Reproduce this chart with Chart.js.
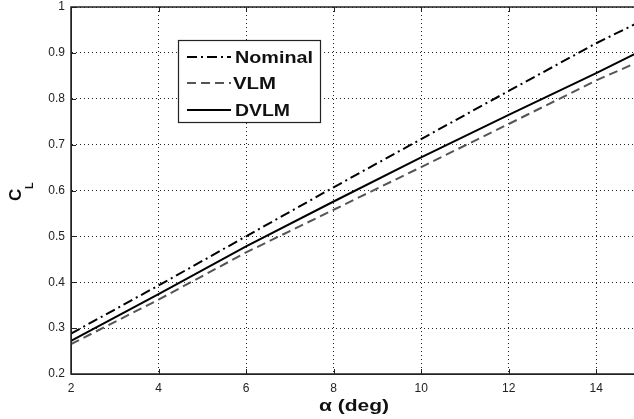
<!DOCTYPE html>
<html>
<head>
<meta charset="utf-8">
<script src="https://cdn.jsdelivr.net/npm/chart.js@4.4.1/dist/chart.umd.min.js"></script>
<style>
html, body { margin: 0; padding: 0; background: #fff; overflow: hidden; }
#wrap { width: 644px; height: 419px; }
</style>
</head>
<body>
<div id="wrap"><canvas id="chart" width="644" height="419"></canvas></div>
<script>
// angle of attack (deg)
const alpha = [2, 4, 6, 8, 10, 12, 14, 15];
// lift coefficient
const nominal = [0.288, 0.393, 0.500, 0.607, 0.712, 0.817, 0.921, 0.968];
const vlm     = [0.265, 0.362, 0.465, 0.558, 0.651, 0.745, 0.840, 0.882];
const dvlm    = [0.272, 0.374, 0.478, 0.576, 0.672, 0.765, 0.856, 0.903];

const xTicks = [2, 4, 6, 8, 10, 12, 14];
const yTicks = [0.2, 0.3, 0.4, 0.5, 0.6, 0.7, 0.8, 0.9, 1];

const seriesNames = ['Nominal', 'VLM', 'DVLM'];
const xTitle = 'α (deg)';
const FONT = '"Liberation Sans", Arial, Helvetica, sans-serif';

function toPoints(ys) {
    return alpha.map((a, i) => ({ x: a, y: ys[i] }));
}

// texte étiré horizontalement pour imiter la police large de l'original
function wideText(ctx, text, x, y, width) {
    const w = ctx.measureText(text).width;
    ctx.save();
    ctx.translate(x, y);
    ctx.scale(width / w, 1);
    ctx.fillText(text, 0, 0);
    ctx.restore();
}

// cadre, petites graduations, légende et titres des axes
const decorPlugin = {
    id: 'decor',
    afterDraw(chart) {
        const ctx = chart.ctx;
        const a = chart.chartArea;
        const xs = chart.scales.x;
        const ys = chart.scales.y;
        ctx.save();

        // frame
        ctx.setLineDash([]);
        ctx.strokeStyle = '#222';
        ctx.lineWidth = 1.5;
        ctx.strokeRect(a.left, a.top, a.right - a.left, a.bottom - a.top);

        // inward tick marks
        ctx.lineWidth = 1;
        ctx.beginPath();
        xTicks.forEach(v => {
            const px = Math.round(xs.getPixelForValue(v)) + 0.5;
            ctx.moveTo(px, a.bottom); ctx.lineTo(px, a.bottom - 5);
            ctx.moveTo(px, a.top); ctx.lineTo(px, a.top + 5);
        });
        yTicks.forEach(v => {
            const py = Math.round(ys.getPixelForValue(v)) + 0.5;
            ctx.moveTo(a.left, py); ctx.lineTo(a.left + 5, py);
            ctx.moveTo(a.right, py); ctx.lineTo(a.right - 5, py);
        });
        ctx.stroke();

        // legend
        const bx = 178, by = 40, bw = 142, bh = 82;
        ctx.fillStyle = '#fff';
        ctx.fillRect(bx, by, bw, bh);
        ctx.strokeStyle = '#222';
        ctx.lineWidth = 1.2;
        ctx.strokeRect(bx + 0.5, by + 0.5, bw, bh);
        const rowsY = [57, 83, 110];
        const rowsX = [235, 233, 235];
        const rowsW = [78, 43, 55];
        chart.data.datasets.forEach((ds, i) => {
            const y = rowsY[i];
            ctx.beginPath();
            ctx.setLineDash(ds.borderDash || []);
            ctx.strokeStyle = ds.borderColor;
            ctx.lineWidth = ds.borderWidth;
            ctx.moveTo(187, y); ctx.lineTo(231, y);
            ctx.stroke();
            ctx.setLineDash([]);
            ctx.fillStyle = '#111';
            ctx.font = 'bold 17px ' + FONT;
            ctx.textBaseline = 'middle';
            ctx.textAlign = 'left';
            wideText(ctx, ds.label, rowsX[i], y + 1, rowsW[i]);
        });

        // x axis title
        ctx.font = 'bold 17px ' + FONT;
        ctx.textAlign = 'left';
        ctx.textBaseline = 'middle';
        wideText(ctx, xTitle, 319, 406, 70);

        // y axis title C_L
        ctx.translate(21, 201);
        ctx.rotate(-Math.PI / 2);
        ctx.textAlign = 'left';
        ctx.textBaseline = 'alphabetic';
        ctx.font = 'bold 17px ' + FONT;
        ctx.fillText('C', 0, 0);
        ctx.font = 'bold 11px ' + FONT;
        ctx.fillText('L', 12, 12);

        ctx.restore();
    }
};

const gridOpts = { color: '#222', lineWidth: 1, drawTicks: false };
const borderOpts = { display: true, dash: [1, 3], color: '#222' };
const tickFont = { family: FONT, size: 12 };

new Chart(document.getElementById('chart'), {
    type: 'line',
    data: {
        datasets: [
            {
                label: seriesNames[0],
                data: toPoints(nominal),
                borderColor: '#000',
                borderWidth: 2,
                borderDash: [10, 4, 2, 4]
            },
            {
                label: seriesNames[1],
                data: toPoints(vlm),
                borderColor: '#555',
                borderWidth: 2,
                borderDash: [9, 5]
            },
            {
                label: seriesNames[2],
                data: toPoints(dvlm),
                borderColor: '#000',
                borderWidth: 2
            }
        ]
    },
    options: {
        responsive: false,
        animation: false,
        layout: { padding: { top: 7, right: 4, left: 0, bottom: 0 } },
        elements: { point: { radius: 0 }, line: { tension: 0 } },
        plugins: {
            legend: { display: false },
            tooltip: { enabled: false }
        },
        scales: {
            x: {
                type: 'linear',
                min: 2,
                max: 15,
                afterBuildTicks: s => { s.ticks = xTicks.map(v => ({ value: v })); },
                afterFit: s => { s.height = 45; s.paddingLeft = 0; s.paddingRight = 0; },
                grid: gridOpts,
                border: borderOpts,
                ticks: { font: tickFont, color: '#222', padding: 7, maxRotation: 0 }
            },
            y: {
                min: 0.2,
                max: 1,
                afterBuildTicks: s => { s.ticks = yTicks.map(v => ({ value: v })); },
                afterFit: s => { s.width = 71; s.paddingTop = 0; s.paddingBottom = 0; },
                grid: gridOpts,
                border: borderOpts,
                ticks: {
                    font: tickFont,
                    color: '#222',
                    padding: 6,
                    callback: v => String(v)
                }
            }
        }
    },
    plugins: [decorPlugin]
});
</script>
</body>
</html>
